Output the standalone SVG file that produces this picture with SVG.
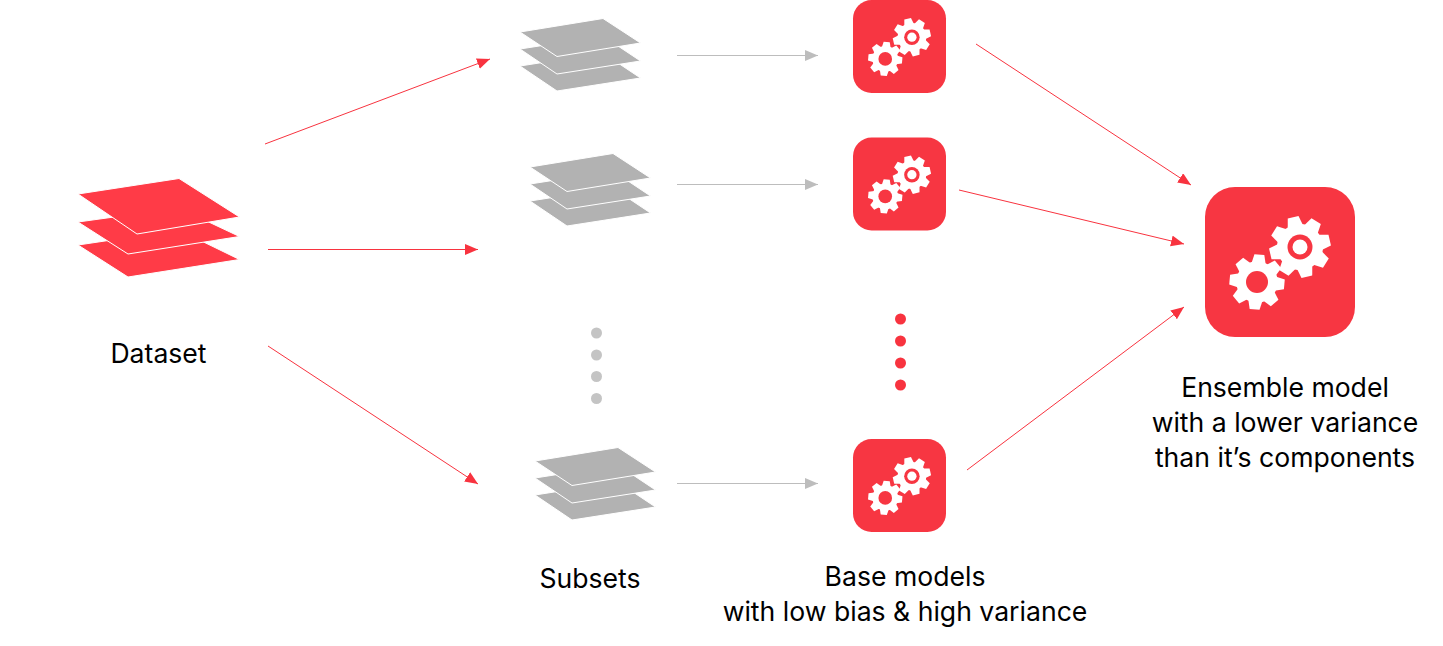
<svg xmlns="http://www.w3.org/2000/svg" xmlns:xlink="http://www.w3.org/1999/xlink" width="1443" height="646" viewBox="0 0 1443 646">
<style>
text{font-family:"Inter","Roboto","Liberation Sans",sans-serif;font-size:26.6px;fill:#000;text-anchor:middle}
.r{stroke:#f8333f;stroke-width:1;fill:none;marker-end:url(#ar)}
.g{stroke:#bdbdbd;stroke-width:1;fill:none;marker-end:url(#ag)}
.sheet-g{fill:#b2b2b2;stroke:#fff;stroke-width:1}
.sheet-r{fill:#ff3b47;stroke:#fff;stroke-width:1}
.box{fill:#f73642}
.w{fill:#fff}
.h{fill:#f73642}
</style>
<defs>
<marker id="ar" markerUnits="userSpaceOnUse" markerWidth="14" markerHeight="12" refX="13" refY="5.5" orient="auto"><path d="M0 0L13 5.5L0 11z" fill="#f8333f"/></marker>
<marker id="ag" markerUnits="userSpaceOnUse" markerWidth="14" markerHeight="12" refX="13" refY="5.5" orient="auto"><path d="M0 0L13 5.5L0 11z" fill="#bdbdbd"/></marker>
<polygon id="tooth" class="w" points="-8,-20 -5.500,-30.500 5.500,-30.500 8,-20"/>
<g id="cog">
<circle r="23" class="w"/>
<use xlink:href="#tooth" href="#tooth"/>
<use xlink:href="#tooth" href="#tooth" transform="rotate(45)"/>
<use xlink:href="#tooth" href="#tooth" transform="rotate(90)"/>
<use xlink:href="#tooth" href="#tooth" transform="rotate(135)"/>
<use xlink:href="#tooth" href="#tooth" transform="rotate(180)"/>
<use xlink:href="#tooth" href="#tooth" transform="rotate(225)"/>
<use xlink:href="#tooth" href="#tooth" transform="rotate(270)"/>
<use xlink:href="#tooth" href="#tooth" transform="rotate(315)"/>
</g>
<g id="icon">
<rect class="box" x="0" y="0" width="150" height="150" rx="30"/>
<g transform="translate(95 60) rotate(-13)"><use href="#cog" xlink:href="#cog"/></g>
<circle cx="95" cy="60" r="12.500" class="h"/><circle cx="95" cy="60" r="7.500" class="w"/>
<g transform="translate(52 95) rotate(5) scale(.9)"><use href="#cog" xlink:href="#cog"/></g>
<circle cx="52" cy="95" r="11" class="h"/>
</g>
<g id="stack-g">
<polygon class="sheet-g" points="-1,47 82,34 119.500,59 36,72"/>
<polygon class="sheet-g" points="-1,30 82,17 119.500,42 36,55"/>
<polygon class="sheet-g" points="-1,13 82,-.5 119.500,24 36,37.500"/>
</g>
</defs>
<g id="connectors">
<line class="r" x1="265" y1="144" x2="490" y2="59"/>
<line class="r" x1="268" y1="249.500" x2="478" y2="249.500"/>
<line class="r" x1="268" y1="346" x2="478" y2="484"/>
<line class="g" x1="677" y1="55.500" x2="818" y2="55.500"/>
<line class="g" x1="677" y1="184.500" x2="818" y2="184.500"/>
<line class="g" x1="677" y1="483.500" x2="818" y2="483.500"/>
<line class="r" x1="976" y1="44" x2="1191" y2="185"/>
<line class="r" x1="959" y1="190" x2="1184" y2="244"/>
<line class="r" x1="967" y1="470" x2="1184" y2="307"/>
</g>
<g id="dataset">
<polygon class="sheet-r" points="78,245 179,230 239.500,259.500 128,277"/>
<polygon class="sheet-r" points="78,222 179,208 239.500,236.500 128,254"/>
<polygon class="sheet-r" points="78,194 179,178.500 239.500,217 137,234"/>
<text x="158.500" y="363">Dataset</text>
</g>
<g id="subset-1"><use href="#stack-g" xlink:href="#stack-g" transform="translate(521 19)"/></g>
<g id="subset-2"><use href="#stack-g" xlink:href="#stack-g" transform="translate(531 154)"/></g>
<g id="subset-3"><use href="#stack-g" xlink:href="#stack-g" transform="translate(536 448)"/></g>
<g id="subset-dots" fill="#c4c4c4"><circle cx="596.500" cy="333" r="5.500"/><circle cx="596.500" cy="355" r="5.500"/><circle cx="596.500" cy="376.500" r="5.500"/><circle cx="596.500" cy="398.500" r="5.500"/></g>
<g id="subsets-label"><text x="590" y="588">Subsets</text></g>
<g id="base-1"><use href="#icon" xlink:href="#icon" transform="translate(853 0) scale(.62)"/></g>
<g id="base-2"><use href="#icon" xlink:href="#icon" transform="translate(853 137.500) scale(.62)"/></g>
<g id="base-3"><use href="#icon" xlink:href="#icon" transform="translate(853 439) scale(.62)"/></g>
<g id="base-dots" fill="#f8333f"><circle cx="900.500" cy="319" r="5.500"/><circle cx="900.500" cy="341" r="5.500"/><circle cx="900.500" cy="363" r="5.500"/><circle cx="900.500" cy="385" r="5.500"/></g>
<g id="base-label"><text x="905" y="586">Base models</text><text x="905" y="621">with low bias &amp; high variance</text></g>
<g id="ensemble"><use href="#icon" xlink:href="#icon" transform="translate(1205 187)"/>
<text x="1285" y="397">Ensemble model</text><text x="1285" y="432">with a lower variance</text><text x="1285" y="467">than it’s components</text></g>
</svg>
